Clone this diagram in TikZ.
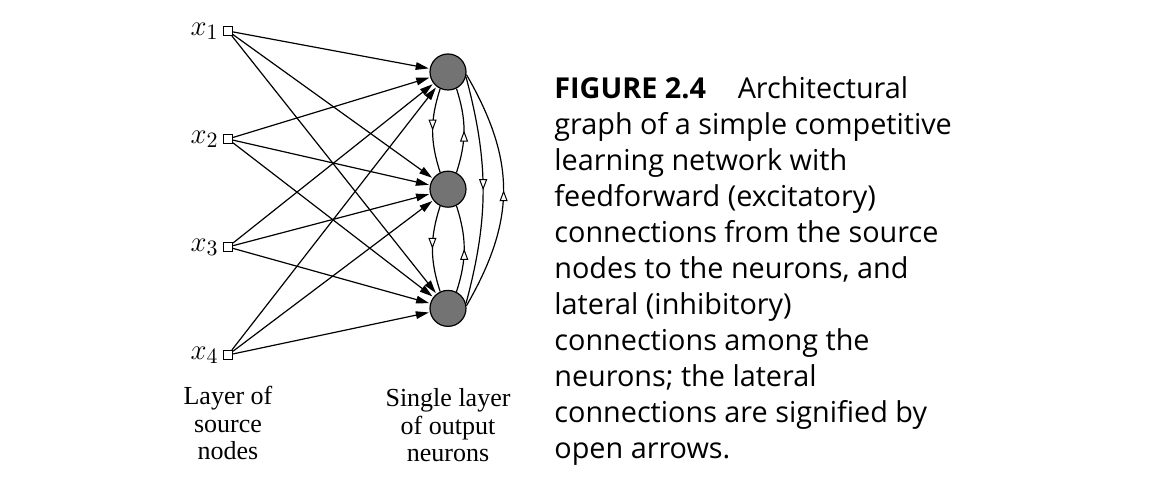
\documentclass[tikz,border=0pt]{standalone}
\usepackage{fontspec}
\setmainfont{Liberation Serif}
\newfontfamily\capfont{Open Sans}
\usetikzlibrary{arrows.meta, positioning, decorations.markings}

\begin{document}
\begin{tikzpicture}[
    x=0.5pt, y=0.5pt,
    srcbox/.style={rectangle, draw, line width=0.5pt, minimum size=4.5pt, inner sep=0pt},
    neuron/.style={circle, draw, line width=0.6pt, fill=black!55, minimum size=18pt, inner sep=0pt},
    xlabel/.style={font=\fontsize{15}{18}\selectfont, inner sep=0pt},
    lname/.style={font=\fontsize{13}{13.8}\selectfont, align=center, inner sep=0pt},
    ffarrow/.style={-{Triangle[length=6.5pt, width=3.8pt]}, line width=0.6pt, shorten >=0.5pt},
    latarrow/.style={line width=0.6pt, postaction={decorate},
        decoration={markings, mark=at position 0.5 with {\arrow[line width=0.5pt]{Triangle[open, fill=white, length=5.5pt, width=4pt]}}}}
]
\useasboundingbox (0,0) rectangle (1158,481);
% source nodes
\node[srcbox] (x1) at (228,450) {};
\node[srcbox, below=49pt of x1] (x2) {};
\node[srcbox, below=49pt of x2] (x3) {};
\node[srcbox, below=49pt of x3] (x4) {};
\node[xlabel, left=2pt of x1] (lx1) {$x_1$};
\node[xlabel, left=2pt of x2] (lx2) {$x_2$};
\node[xlabel, left=2pt of x3] (lx3) {$x_3$};
\node[xlabel, left=2pt of x4] (lx4) {$x_4$};
% output neurons
\node[neuron] (n1) at (448,409) {};
\node[neuron, below=40pt of n1] (n2) {};
\node[neuron, below=41pt of n2] (n3) {};
% feedforward connections
\draw[ffarrow] (x1) -- (n1);
\draw[ffarrow] (x1) -- (n2);
\draw[ffarrow] (x1) -- (n3);
\draw[ffarrow] (x2) -- (n1);
\draw[ffarrow] (x2) -- (n2);
\draw[ffarrow] (x2) -- (n3);
\draw[ffarrow] (x3) -- (n1);
\draw[ffarrow] (x3) -- (n2);
\draw[ffarrow] (x3) -- (n3);
\draw[ffarrow] (x4) -- (n1);
\draw[ffarrow] (x4) -- (n2);
\draw[ffarrow] (x4) -- (n3);
% lateral connections
\draw[latarrow] (n1.-115) to[bend right=18] (n2.115);
\draw[latarrow] (n2.63) to[bend right=18] (n1.-63);
\draw[latarrow] (n2.-115) to[bend right=18] (n3.115);
\draw[latarrow] (n3.63) to[bend right=18] (n2.-63);
\draw[latarrow] (n1.-15) to[out=-75, in=75] (n3.15);
\draw[latarrow] (n3.8) to[out=60, in=-60, looseness=1.1] (n1.-8);
% layer names
\node[lname, below=13pt of x4] (lsrc) {Layer of\\source\\nodes};
\node[lname, below=30.5pt of n3] (lout) {Single layer\\of output\\neurons};
% caption
\node[anchor=north west, inner sep=0pt, align=left, font=\capfont\fontsize{14.4}{18}\selectfont] (cap) at (554,405)
    {\textbf{FIGURE 2.4}\hspace{1.1em}Architectural\\graph of a simple competitive\\learning network with\\feedforward (excitatory)\\connections from the source\\nodes to the neurons, and\\lateral (inhibitory)\\connections among the\\neurons; the lateral\\connections are signified by\\open arrows.};
\end{tikzpicture}
\end{document}
